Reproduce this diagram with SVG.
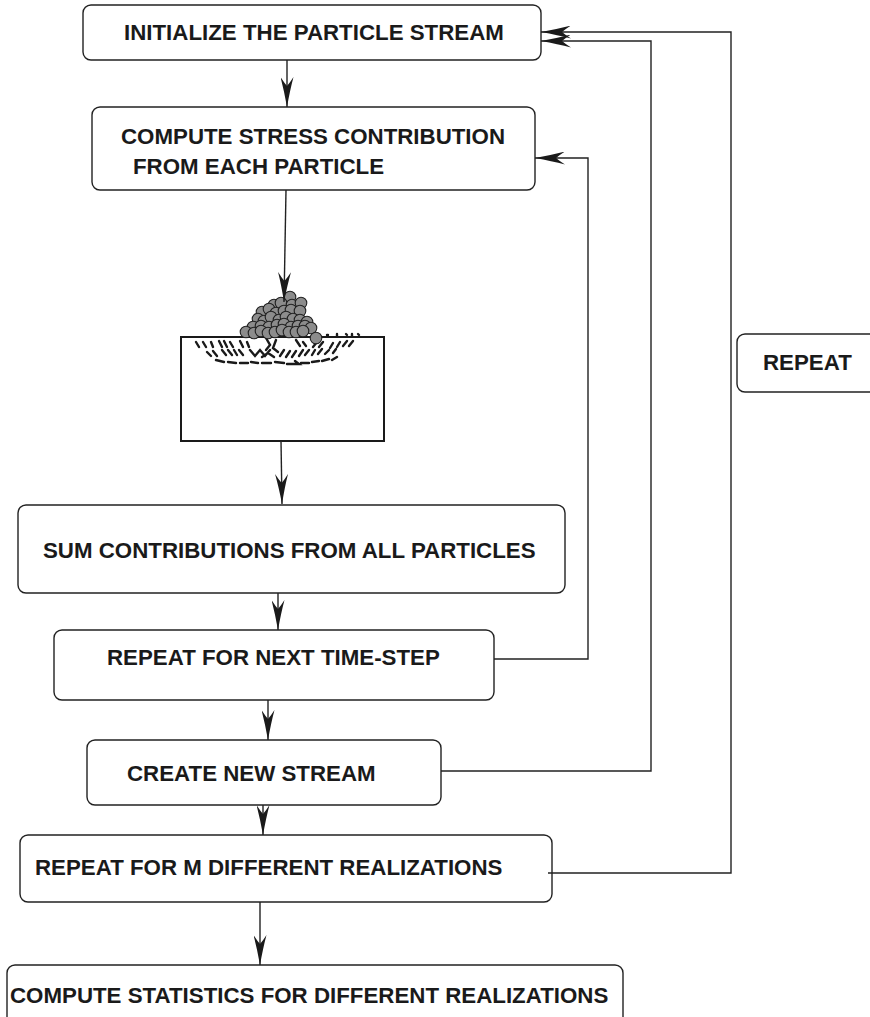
<svg xmlns="http://www.w3.org/2000/svg" width="870" height="1017" viewBox="0 0 870 1017">
  <style>
    .box { fill: #fff; stroke: #222; stroke-width: 1.4; }
    .lbl { font-family: "Liberation Sans", Arial, sans-serif; font-weight: bold; font-size: 22.3px; fill: #1a1a1a; }
    .wire { fill: none; stroke: #222; stroke-width: 1.4; }
    .grain { fill: #8c8c8c; stroke: #222; stroke-width: 1.1; }
    .mark { fill: none; stroke: #1a1a1a; stroke-width: 2.4; stroke-linecap: round; }
  </style>
  <defs>
    <marker id="barb" viewBox="0 0 30 13" markerWidth="30" markerHeight="13" refX="30" refY="6.5" orient="auto" markerUnits="userSpaceOnUse">
      <path d="M30,6.5 Q13,3.5 0,0 Q6,3.8 9,6.5 Q6,9.2 0,13 Q13,9.5 30,6.5 Z" fill="#1a1a1a"/>
    </marker>
  </defs>
  <rect width="870" height="1017" fill="#fff"/>

  <!-- process steps -->
  <g id="init">
    <rect class="box" x="83" y="5" width="458" height="55" rx="8"/>
    <text class="lbl" x="124" y="40">INITIALIZE THE PARTICLE STREAM</text>
  </g>
  <g id="stress">
    <rect class="box" x="92" y="107" width="443" height="83" rx="8"/>
    <text class="lbl" x="121" y="144">COMPUTE STRESS CONTRIBUTION</text>
    <text class="lbl" x="133" y="174">FROM EACH PARTICLE</text>
  </g>

  <!-- particle stream impacting the substrate -->
  <g id="impact">
    <rect x="181" y="337" width="203" height="104" fill="#fff" stroke="#1a1a1a" stroke-width="2"/>
    <g class="mark">
      <path d="M196,342 l3,5 M203,342 l3,5 M211,342 l2,5 M219,341 l3,6 M224,341 l3,6 M230,342 l3,5 M240,341 l3,6 M247,342 l2,5"/>
      <path d="M266,338 l4,7 l-4,5 M276,340 l-3,8 l5,4 M296,340 l4,6 M303,342 l3,4"/>
      <path d="M313,347 l4,-5 M319,347 l4,-5 M330,348 l3,-5 M337,347 l3,-5 M343,346 l4,-5 M349,346 l4,-5"/>
      <path d="M327,335 l1,0 M337,334 l0,2 M346,334 l1,1 M352,334 l0,2 M358,334 l1,1"/>
      <path d="M207,352 l4,4 M213,351 l4,5 M222,350 l4,5 M228,350 l4,5 M234,350 l3,5 M239,350 l4,5"/>
      <path d="M250,350 l5,6 l5,-6 l5,6 l5,-6 M262,357 l6,-4 l6,4"/>
      <path d="M280,356 l4,-6 M286,357 l4,-6 M292,357 l4,-6 M299,356 l4,-6 M305,355 l4,-5 M312,355 l3,-5 M318,354 l4,-5 M325,354 l4,-4 M333,353 l3,-4"/>
      <path d="M216,360 l8,2 M228,362 l8,1 M240,363 l8,0 M251,362 l7,1 M262,363 l9,0 M275,362 l9,1 M287,364 l12,0 l-4,-3 M301,363 l8,0 M312,362 l7,-1 M322,361 l7,-2 M332,360 l5,-3"/>
    </g>
    <g class="grain">
      <circle cx="290" cy="297" r="5.8"/>
      <circle cx="274" cy="305" r="5.8"/><circle cx="281" cy="303" r="5.8"/><circle cx="292" cy="305" r="5.8"/><circle cx="301" cy="303" r="5.8"/>
      <circle cx="262" cy="312" r="5.8"/><circle cx="269" cy="309" r="5.8"/><circle cx="276" cy="313" r="5.8"/><circle cx="284" cy="311" r="5.8"/><circle cx="291" cy="310" r="5.8"/><circle cx="300" cy="311" r="5.8"/>
      <circle cx="258" cy="319" r="5.8"/><circle cx="264" cy="321" r="5.8"/><circle cx="271" cy="317" r="5.8"/><circle cx="279" cy="320" r="5.8"/><circle cx="286" cy="317" r="5.8"/><circle cx="293" cy="319" r="5.8"/><circle cx="300" cy="320" r="5.8"/><circle cx="307" cy="322" r="5.8"/>
      <circle cx="253" cy="327" r="5.8"/><circle cx="261" cy="326" r="5.8"/><circle cx="269" cy="327" r="5.8"/><circle cx="277" cy="325" r="5.8"/><circle cx="284" cy="324" r="5.8"/><circle cx="291" cy="327" r="5.8"/><circle cx="298" cy="326" r="5.8"/><circle cx="305" cy="326" r="5.8"/><circle cx="311" cy="328" r="5.8"/>
      <circle cx="246" cy="332" r="5.8"/><circle cx="254" cy="333" r="5.8"/><circle cx="261" cy="331" r="5.8"/><circle cx="268" cy="333" r="5.8"/><circle cx="275" cy="332" r="5.8"/><circle cx="282" cy="330" r="5.8"/><circle cx="289" cy="332" r="5.8"/><circle cx="296" cy="332" r="5.8"/><circle cx="303" cy="331" r="5.8"/>
      <circle cx="316" cy="338" r="5.8"/>
    </g>
  </g>

  <g id="sum">
    <rect class="box" x="18" y="505" width="547" height="88" rx="8"/>
    <text class="lbl" x="43" y="558">SUM CONTRIBUTIONS FROM ALL PARTICLES</text>
  </g>
  <g id="next-step">
    <rect class="box" x="54" y="630" width="440" height="70" rx="8"/>
    <text class="lbl" x="107" y="665">REPEAT FOR NEXT TIME-STEP</text>
  </g>
  <g id="new-stream">
    <rect class="box" x="87" y="740" width="354" height="65" rx="8"/>
    <text class="lbl" x="127" y="781">CREATE NEW STREAM</text>
  </g>
  <g id="realizations">
    <rect class="box" x="20" y="835" width="532" height="67" rx="8"/>
    <text class="lbl" x="35" y="875">REPEAT FOR M DIFFERENT REALIZATIONS</text>
  </g>
  <g id="statistics">
    <rect class="box" x="7" y="965" width="616" height="60" rx="8"/>
    <text class="lbl" x="10" y="1003">COMPUTE STATISTICS FOR DIFFERENT REALIZATIONS</text>
  </g>
  <g id="repeat">
    <rect class="box" x="737" y="334" width="150" height="58" rx="8"/>
    <text class="lbl" x="763" y="370">REPEAT</text>
  </g>

  <!-- connectors -->
  <g id="connectors">
    <line class="wire" x1="287" y1="60" x2="287" y2="107" marker-end="url(#barb)"/>
    <line class="wire" x1="286" y1="190" x2="284" y2="302" marker-end="url(#barb)"/>
    <line class="wire" x1="281" y1="441" x2="282" y2="504" marker-end="url(#barb)"/>
    <line class="wire" x1="278" y1="593" x2="278" y2="630" marker-end="url(#barb)"/>
    <line class="wire" x1="268" y1="700" x2="268" y2="740" marker-end="url(#barb)"/>
    <line class="wire" x1="263" y1="805" x2="263" y2="835" marker-end="url(#barb)"/>
    <line class="wire" x1="260" y1="902" x2="260" y2="965" marker-end="url(#barb)"/>
    <polyline class="wire" points="494,659 588,659 588,158 535,158" marker-end="url(#barb)"/>
    <polyline class="wire" points="441,771 651,771 651,41 541,41" marker-end="url(#barb)"/>
    <polyline class="wire" points="548,873 731,873 731,32 541,32" marker-end="url(#barb)"/>
  </g>
</svg>
